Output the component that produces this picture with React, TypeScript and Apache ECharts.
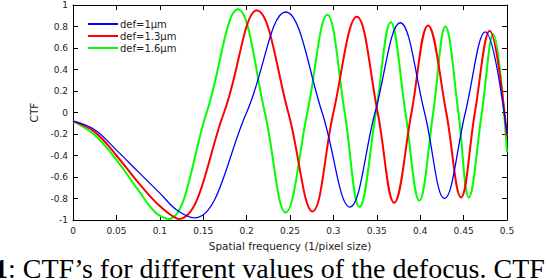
import React, { useEffect, useRef } from "react";
import * as echarts from "echarts";

const seriesNames = ["def=1\u03bcm", "def=1.3\u03bcm", "def=1.6\u03bcm"];
const seriesColors = ["#0000ff", "#ff0000", "#00ff00"];

const blueK = [0, 0.025, 0.05, 0.075, 0.1, 0.12, 0.14, 0.2, 0.245, 0.287, 0.319, 0.348, 0.377, 0.405, 0.428, 0.452, 0.475, 0.5];
const blueV = [-0.08, -0.16, -0.35, -0.55, -0.75, -0.91, -0.98, 0, 0.935, 0, -0.88, 0, 0.835, 0, -0.8, 0, 0.75, -0.2];

const redK = [0, 0.025, 0.05, 0.075, 0.1, 0.122, 0.174, 0.212, 0.248, 0.276, 0.3, 0.327, 0.351, 0.37, 0.39, 0.409, 0.43, 0.447, 0.463, 0.48, 0.5];
const redV = [-0.08, -0.18, -0.4, -0.65, -0.87, -0.99, 0, 0.95, 0, -0.92, 0, 0.89, 0, -0.84, 0, 0.81, 0, -0.79, 0, 0.76, -0.22];

const greenK = [0, 0.025, 0.05, 0.075, 0.095, 0.11, 0.154, 0.19, 0.221, 0.245, 0.27, 0.293, 0.313, 0.33, 0.349, 0.366, 0.383, 0.399, 0.415, 0.429, 0.444, 0.456, 0.471, 0.484, 0.5];
const greenV = [-0.08, -0.21, -0.44, -0.72, -0.93, -0.99, 0, 0.96, 0, -0.93, 0, 0.91, 0, -0.88, 0, 0.84, 0, -0.82, 0, 0.8, 0, -0.79, 0, 0.73, -0.37];

const xTicks = { min: 0, max: 0.5, interval: 0.05 };
const yTicks = { min: -1, max: 1, interval: 0.2 };

const xName = "Spatial frequency (1/pixel size)";
const yName = "CTF";
const captionBold = "1";
const captionRest = ": CTF\u2019s for different values of the defocus. CTF u";

function pairs(k: number[], v: number[]) {
  return k.map((x, i) => [x, v[i]]);
}

const fmt = (v: number) => String(+Number(v).toFixed(2));

export default function App() {
  const ref = useRef<HTMLDivElement>(null);
  useEffect(() => {
    if (!ref.current) return;
    const chart = echarts.init(ref.current, undefined, { renderer: "svg" });
    const axisFont = { fontFamily: "DejaVu Sans", fontSize: 9, color: "#222" };
    const lineStyle = { color: "#000", width: 1 };
    const dataSets = [pairs(blueK, blueV), pairs(redK, redV), pairs(greenK, greenV)];
    const widths = [1.3, 2, 2];
    chart.setOption({
      animation: false,
      backgroundColor: "#fff",
      grid: { left: 73, right: 41, top: 5, bottom: 60, containLabel: false },
      legend: {
        data: seriesNames.map((n, i) => ({
          name: n,
          icon: "rect",
          itemStyle: { color: seriesColors[i] },
        })),
        orient: "vertical",
        left: 88,
        top: 18,
        itemWidth: 30,
        itemHeight: 2,
        itemGap: 0,
        padding: 0,
        selectedMode: false,
        textStyle: { fontFamily: "DejaVu Sans", fontSize: 10, color: "#222", lineHeight: 12, padding: [0, 0, 0, -3] },
      },
      xAxis: [
        {
          type: "value",
          ...xTicks,
          position: "bottom",
          name: xName,
          nameLocation: "middle",
          nameGap: 18,
          nameTextStyle: { fontFamily: "DejaVu Sans", fontSize: 10.5, color: "#222", lineHeight: 12 },
          axisLine: { show: true, onZero: false, lineStyle },
          axisTick: { show: true, inside: true, length: 5, lineStyle },
          axisLabel: { ...axisFont, margin: 6, formatter: fmt },
          splitLine: { show: false },
        },
        {
          type: "value",
          ...xTicks,
          position: "top",
          axisLine: { show: true, onZero: false, lineStyle },
          axisTick: { show: true, inside: true, length: 5, lineStyle },
          axisLabel: { show: false },
          splitLine: { show: false },
        },
      ],
      yAxis: [
        {
          type: "value",
          ...yTicks,
          position: "left",
          name: yName,
          nameLocation: "middle",
          nameGap: 30,
          nameTextStyle: { fontFamily: "DejaVu Sans", fontSize: 10.5, color: "#222" },
          axisLine: { show: true, onZero: false, lineStyle },
          axisTick: { show: true, inside: true, length: 5, lineStyle },
          axisLabel: { ...axisFont, margin: 5, formatter: fmt },
          splitLine: { show: false },
        },
        {
          type: "value",
          ...yTicks,
          position: "right",
          axisLine: { show: true, onZero: false, lineStyle },
          axisTick: { show: true, inside: true, length: 5, lineStyle },
          axisLabel: { show: false },
          splitLine: { show: false },
        },
      ],
      series: dataSets.map((d, i) => ({
        name: seriesNames[i],
        type: "line",
        data: d,
        showSymbol: false,
        smooth: 0.4,
        lineStyle: { color: seriesColors[i], width: widths[i] },
        itemStyle: { color: seriesColors[i] },
        z: 3 - i,
      })),
      graphic: [
        {
          type: "text",
          left: -6,
          top: 254,
          style: {
            text: `{b|${captionBold}}{r|${captionRest}}`,
            rich: {
              b: { fontFamily: "Liberation Serif", fontSize: 28, lineHeight: 26, fontWeight: "bold", fill: "#000" },
              r: { fontFamily: "Liberation Serif", fontSize: 28, lineHeight: 26, fill: "#000" },
            },
          },
        },
      ],
    });
    return () => chart.dispose();
  }, []);
  return (
    <div
      ref={ref}
      style={{ position: "absolute", left: 0, top: 0, width: 548, height: 280, background: "#fff" }}
    />
  );
}
